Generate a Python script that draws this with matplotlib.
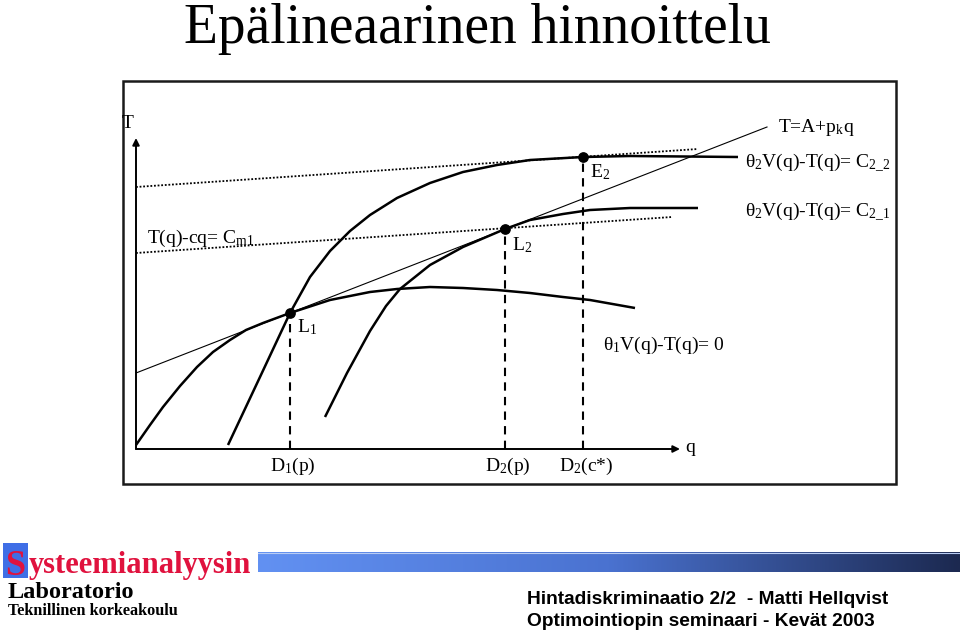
import numpy as np
import matplotlib
matplotlib.use("Agg")
import matplotlib.pyplot as plt
from matplotlib.patches import Rectangle
from matplotlib.colors import LinearSegmentedColormap

plt.rcParams['font.family'] = ['Liberation Serif', 'DejaVu Serif']
plt.rcParams['mathtext.fontset'] = 'custom'
plt.rcParams['mathtext.rm'] = 'Liberation Serif'
plt.rcParams['mathtext.it'] = 'Liberation Serif:italic'
plt.rcParams['mathtext.bf'] = 'Liberation Serif:bold'

# diagram data in (q, T) units
theta1_q = [0, 14, 27, 44, 61, 77, 94, 110, 127, 154, 194, 234, 261, 294, 327, 361, 394, 427, 454, 499]
theta1_T = [4, 24, 42, 63, 82, 97, 109, 119, 126, 136, 149, 157, 160, 162, 161, 159, 156, 152, 149, 141]

c22_q = [92, 124, 154, 174, 194, 214, 234, 261, 294, 327, 361, 394, 447, 494, 602]
c22_T = [4, 72, 136, 172, 198, 218, 234, 251, 266, 277, 284, 289, 292, 293, 292]

c21_q = [189, 211, 234, 250, 264, 294, 327, 369, 394, 427, 454, 494, 562]
c21_T = [32, 76, 118, 143, 160, 184, 202, 220, 229, 235, 239, 241, 241]

tariff_q = [0, 631]          # T = A + p_k q
tariff_T = [76, 322]

iso_hi_q = [0, 562]          # T(q) - cq = const, through E2
iso_hi_T = [262, 300]
iso_lo_q = [0, 536]          # T(q) - cq = C_m1, through L2
iso_lo_T = [196, 232]

pt_names = ["L1", "L2", "E2"]
pt_q = [154, 369, 447]
pt_T = [136, 220, 292]
d_labels = [r"D$_1$(p)", r"D$_2$(p)", r"D$_2$(c*)"]

fig = plt.figure(figsize=(9.6, 6.34), dpi=100)

# decoration layer in pixel coordinates
deco = fig.add_axes([0, 0, 1, 1])
deco.set_xlim(0, 960)
deco.set_ylim(634, 0)
deco.axis('off')

# diagram layer: origin of the q/T axes at pixel (136, 449)
ax = fig.add_axes([0, 0, 1, 1])
ax.set_xlim(-136, 824)
ax.set_ylim(449 - 634, 449)
ax.axis('off')
ax.patch.set_alpha(0)

# title
deco.text(477, 43, "Epälineaarinen hinnoittelu", fontsize=40, ha='center', va='baseline')

# frame round the diagram
deco.add_patch(Rectangle((123, 81), 773, 403, fill=False, lw=1.8, edgecolor='#1a1a1a'))

# axes with arrows
arr = dict(arrowstyle='-|>', lw=1.4, color='k', mutation_scale=10, shrinkA=0, shrinkB=0)
ax.annotate('', xy=(0, 311), xytext=(0, 0), arrowprops=arr)
ax.annotate('', xy=(544, 0), xytext=(0, 0), arrowprops=arr)
ax.text(-8, 325, "T", fontsize=14, ha='center', va='center')
ax.text(554, 2, "q", fontsize=14, ha='center', va='center')

# isoprofit lines
ax.plot(iso_hi_q, iso_hi_T, color='k', lw=1.3, ls=(0, (1, 1)))
ax.plot(iso_lo_q, iso_lo_T, color='k', lw=1.3, ls=(0, (1, 1)))

# tariff line
ax.plot(tariff_q, tariff_T, color='k', lw=0.8)

# indifference curves
for cq, cT in [(theta1_q, theta1_T), (c22_q, c22_T), (c21_q, c21_T)]:
    ax.plot(cq, cT, color='k', lw=1.8, solid_capstyle='butt', solid_joinstyle='round')

# dashed drop lines, points, labels under the axis
for q, T, lab in zip(pt_q, pt_T, d_labels):
    ax.plot([q, q], [0, T], color='k', lw=1.5, ls=(0, (4, 3)))
    ax.text(q + 3, -17, lab, fontsize=14, ha='center', va='center')
ax.scatter(pt_q, pt_T, s=45, color='k', zorder=5)

ax.text(161, 122, r"L$_1$", fontsize=14, ha='left', va='center')
ax.text(376, 204, r"L$_2$", fontsize=14, ha='left', va='center')
ax.text(454, 277, r"E$_2$", fontsize=14, ha='left', va='center')

ax.text(642, 322, r"T=A+p$_{\mathrm{k}}$q", fontsize=14, ha='left', va='center')
ax.text(609, 286, r"θ$_2$V(q)-T(q)= C$_{\mathrm{2\_2}}$", fontsize=14, ha='left', va='center')
ax.text(609, 237, r"θ$_2$V(q)-T(q)= C$_{\mathrm{2\_1}}$", fontsize=14, ha='left', va='center')
ax.text(467, 104, r"θ$_1$V(q)-T(q)= 0", fontsize=14, ha='left', va='center')
ax.text(11, 211, r"T(q)-cq= C$_{\mathrm{m1}}$", fontsize=14, ha='left', va='center')

# footer: logo
deco.add_patch(Rectangle((3, 543), 25, 35, color='#3f6ee6', lw=0))
deco.text(5, 575, "S", fontsize=26, fontweight='bold', color='#e0123e', ha='left', va='baseline')
deco.text(29, 573, "ysteemianalyysin", fontsize=22, fontweight='bold', color='#e0123e',
          ha='left', va='baseline')
deco.text(8, 598, "Laboratorio", fontsize=17.5, fontweight='bold', ha='left', va='baseline')
deco.text(8, 615, "Teknillinen korkeakoulu", fontsize=11.7, fontweight='bold', ha='left', va='baseline')

# footer: gradient bar
grad = np.linspace(0, 1, 256).reshape(1, -1)
cmap = LinearSegmentedColormap.from_list('bar', ['#6291f2', '#4a72d0', '#1c2950'])
deco.imshow(grad, cmap=cmap, aspect='auto', extent=[258, 960, 572, 552], zorder=1)
deco.plot([258, 960], [552.5, 552.5], color='#b8ccf4', lw=0.8, zorder=2)
deco.set_xlim(0, 960)
deco.set_ylim(634, 0)

# footer: talk info
deco.text(527, 600, "Hintadiskriminaatio 2/2  - Matti Hellqvist", fontsize=13.8,
          fontweight='bold', family=['Liberation Sans', 'DejaVu Sans'], ha='left', va='center')
deco.text(527, 622, "Optimointiopin seminaari - Kevät 2003", fontsize=13.8,
          fontweight='bold', family=['Liberation Sans', 'DejaVu Sans'], ha='left', va='center')

fig.savefig("out.png", dpi=100)
